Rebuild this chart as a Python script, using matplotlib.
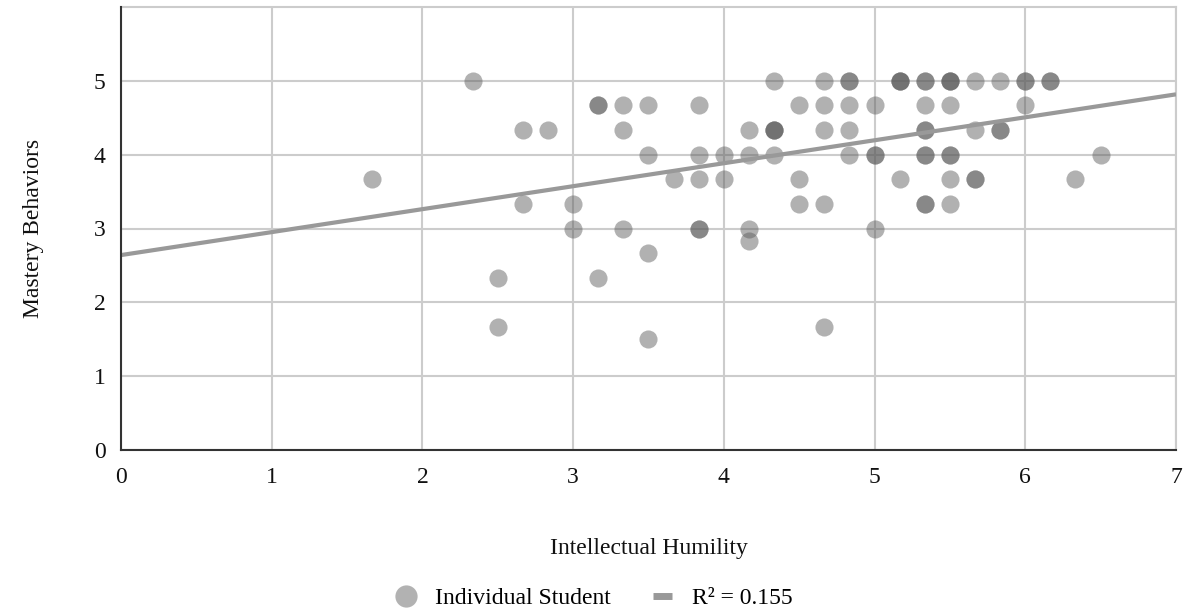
import matplotlib
matplotlib.use("Agg")
import matplotlib.pyplot as plt
from matplotlib.lines import Line2D

# ---- data ----
x_vals = [1.667, 2.333, 2.5, 2.5, 2.667, 2.667, 2.833, 3, 3, 3.167, 3.167, 3.333, 3.333, 3.333,
          3.5, 3.5, 3.5, 3.5, 3.667, 3.833, 3.833, 3.833, 3.833, 4, 4, 4.167, 4.167, 4.167, 4.167,
          4.333, 4.333, 4.333, 4.5, 4.5, 4.5, 4.667, 4.667, 4.667, 4.667, 4.667,
          4.833, 4.833, 4.833, 4.833, 5, 5, 5, 5.167, 5.167, 5.333, 5.333, 5.333, 5.333, 5.333,
          5.5, 5.5, 5.5, 5.5, 5.5, 5.667, 5.667, 5.667, 5.833, 5.833, 6, 6, 6.167, 6.333, 6.5]
y_vals = [3.667, 5, 2.333, 1.667, 4.333, 3.333, 4.333, 3.333, 3, 4.667, 2.333, 4.667, 4.333, 3,
          4.667, 4, 2.667, 1.5, 3.667, 4.667, 4, 3.667, 3, 4, 3.667, 4.333, 4, 3, 2.833,
          5, 4.333, 4, 4.667, 3.667, 3.333, 5, 4.667, 4.333, 3.333, 1.667,
          5, 4.667, 4.333, 4, 4.667, 4, 3, 5, 3.667, 5, 4.667, 4.333, 4, 3.333,
          5, 4.667, 4, 3.667, 3.333, 5, 4.333, 3.667, 5, 4.333, 5, 4.667, 5, 3.667, 4]
# number of students sharing each plotted position
counts = [1, 1, 1, 1, 1, 1, 1, 1, 1, 2, 1, 1, 1, 1,
          1, 1, 1, 1, 1, 1, 1, 1, 2, 1, 1, 1, 1, 1, 1,
          1, 3, 1, 1, 1, 1, 1, 1, 1, 1, 1,
          2, 1, 1, 1, 1, 2, 1, 3, 1, 2, 1, 2, 2, 2,
          3, 1, 2, 1, 1, 1, 1, 2, 1, 2, 2, 1, 2, 1, 1]
trend_intercept = 2.64
trend_slope = 0.311
r_squared = 0.155
x_ticks = [0, 1, 2, 3, 4, 5, 6, 7]
y_ticks = [0, 1, 2, 3, 4, 5]

xs, ys = [], []
for x, y, c in zip(x_vals, y_vals, counts):
    xs += [x] * c
    ys += [y] * c

plt.rcParams['font.family'] = ['Liberation Serif', 'DejaVu Serif']
FS = 17

fig = plt.figure(figsize=(11.89, 6.13), dpi=100)
ax = fig.add_axes([121 / 1189, 163 / 613, (1176 - 121) / 1189, (450 - 7) / 613])

ax.set_xlim(0, 7)
ax.set_ylim(0, 6)
ax.set_xticks(x_ticks)
ax.set_yticks(y_ticks)
ax.grid(True, color='#cccccc', linewidth=1.5, zorder=0)
ax.set_axisbelow(True)

for s in ['top', 'right']:
    ax.spines[s].set_color('#cccccc')
    ax.spines[s].set_linewidth(1.5)
for s in ['left', 'bottom']:
    ax.spines[s].set_color('#333333')
    ax.spines[s].set_linewidth(1.5)
ax.spines['bottom'].set_zorder(5)
ax.spines['left'].set_zorder(5)

ax.tick_params(axis='both', length=0, labelsize=FS, colors='#111111')
ax.tick_params(axis='x', pad=12)
ax.tick_params(axis='y', pad=11)

ax.scatter(xs, ys, s=170, color='#5b5b5b', alpha=0.47, linewidths=0, zorder=3)

lx = [0, 7]
ly = [trend_intercept + trend_slope * v for v in lx]
ax.plot(lx, ly, color='#999999', linewidth=3, zorder=4, solid_capstyle='butt')

ax.set_xlabel('Intellectual Humility', fontsize=FS, labelpad=36, color='#111111')
ax.set_ylabel('Mastery Behaviors', fontsize=FS, labelpad=36, color='#111111')

h1 = Line2D([], [], linestyle='none', marker='o', markersize=16, markerfacecolor='#b2b2b2',
            markeredgewidth=0)
h2 = Line2D([], [], color='#999999', linewidth=5, solid_capstyle='butt')
fig.legend([h1, h2], ['Individual Student', 'R\u00b2 = %.3f' % r_squared], loc='center',
           bbox_to_anchor=(0.5, 15 / 613), ncol=2, frameon=False, fontsize=FS,
           handlelength=0.8, handletextpad=0.85, columnspacing=1.8)

fig.savefig('out.png', dpi=100)
